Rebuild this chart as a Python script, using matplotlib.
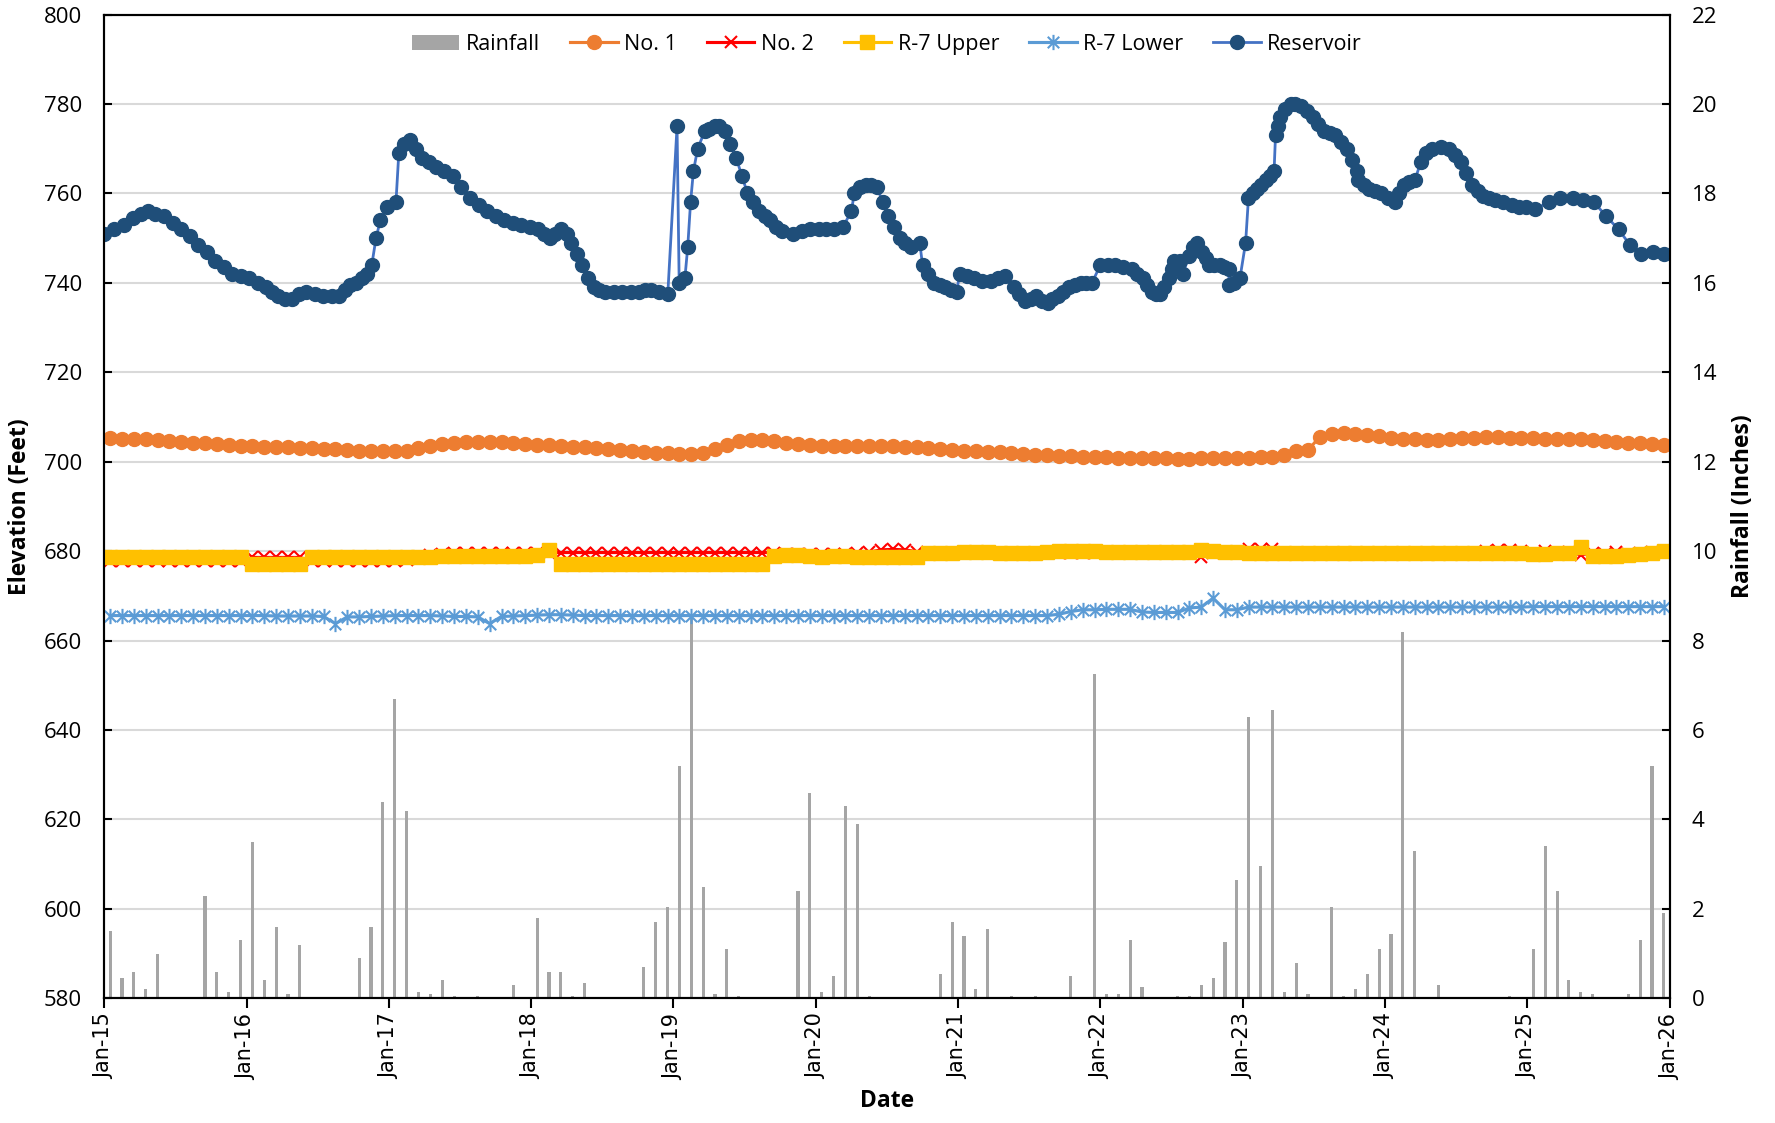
import numpy as np
import matplotlib
matplotlib.use("Agg")
import matplotlib.pyplot as plt
from matplotlib.path import Path

plt.rcParams['font.family'] = ['Open Sans', 'DejaVu Sans']

# monthly rainfall (inches), Jan-2015 .. Dec-2025
rain = [
    1.5, 0.45, 0.6, 0.2, 1.0, 0, 0, 0, 2.3, 0.6, 0.15, 1.3,        # 2015
    3.5, 0.4, 1.6, 0.1, 1.2, 0, 0, 0, 0, 0.9, 1.6, 4.4,            # 2016
    6.7, 4.2, 0.15, 0.1, 0.4, 0.05, 0, 0.05, 0, 0, 0.3, 0,         # 2017
    1.8, 0.6, 0.6, 0.05, 0.35, 0, 0, 0, 0, 0.7, 1.7, 2.05,         # 2018
    5.2, 8.6, 2.5, 0.1, 1.1, 0.05, 0, 0, 0, 0, 2.4, 4.6,           # 2019
    0.15, 0.5, 4.3, 3.9, 0.05, 0, 0, 0, 0, 0, 0.55, 1.7,           # 2020
    1.4, 0.2, 1.55, 0, 0.05, 0, 0.05, 0, 0, 0.5, 0, 7.25,          # 2021
    0.1, 0.1, 1.3, 0.25, 0, 0, 0.05, 0.05, 0.3, 0.45, 1.25, 2.65,  # 2022
    6.3, 2.95, 6.45, 0.15, 0.8, 0.1, 0, 2.05, 0.05, 0.2, 0.55, 1.1,  # 2023
    1.45, 8.2, 3.3, 0, 0.3, 0, 0, 0, 0, 0, 0.05, 0,                # 2024
    1.1, 3.4, 2.4, 0.4, 0.15, 0.1, 0, 0, 0.1, 1.3, 5.2, 1.9,       # 2025
]

no1 = [
    705.3, 705.2, 705.1, 705.0, 704.9, 704.7, 704.5, 704.3, 704.1, 703.9, 703.7, 703.6,
    703.5, 703.4, 703.3, 703.2, 703.1, 703.0, 702.9, 702.8, 702.6, 702.5, 702.4, 702.3,
    702.3, 702.5, 703.0, 703.5, 703.9, 704.2, 704.4, 704.5, 704.5, 704.4, 704.2, 704.0,
    703.8, 703.7, 703.6, 703.4, 703.2, 703.0, 702.8, 702.6, 702.4, 702.2, 702.0, 701.9,
    701.8, 701.7, 702.0, 702.8, 703.8, 704.6, 704.9, 704.8, 704.6, 704.3, 704.0, 703.8,
    703.6, 703.5, 703.5, 703.5, 703.5, 703.6, 703.5, 703.4, 703.2, 703.0, 702.8, 702.6,
    702.5, 702.3, 702.2, 702.1, 702.0, 701.8, 701.6, 701.5, 701.3, 701.2, 701.1, 701.0,
    701.0, 700.9, 700.9, 700.8, 700.8, 700.8, 700.7, 700.7, 700.8, 700.8, 700.9, 700.9,
    700.9, 701.0, 701.1, 701.4, 702.5, 702.6, 705.6, 706.2, 706.5, 706.3, 706.0, 705.7,
    705.4, 705.2, 705.0, 704.9, 704.9, 705.1, 705.3, 705.4, 705.5, 705.5, 705.4, 705.3,
    705.3, 705.2, 705.2, 705.1, 705.0, 704.9, 704.7, 704.5, 704.3, 704.2, 704.0, 703.8,
]

no2 = [
    677.8, 677.8, 677.8, 677.8, 677.8, 677.8, 677.8, 677.8, 677.8, 677.8, 677.8, 677.8,
    678.6, 678.6, 678.6, 678.6, 678.6, 677.8, 677.8, 677.8, 677.8, 677.8, 677.8, 677.8,
    677.9, 678.0, 678.6, 679.2, 679.4, 679.5, 679.6, 679.6, 679.7, 679.7, 679.7, 679.7,
    679.7, 679.7, 679.7, 679.7, 679.7, 679.7, 679.7, 679.7, 679.7, 679.7, 679.7, 679.7,
    679.7, 679.7, 679.7, 679.7, 679.7, 679.7, 679.7, 679.7, 679.7, 679.4, 679.3, 679.3,
    679.3, 679.3, 679.3, 679.5, 679.8, 680.3, 680.4, 680.3, 679.9, 679.6, 679.6, 679.6,
    679.6, 679.6, 679.6, 679.6, 679.6, 679.6, 679.6, 679.6, 679.6, 679.6, 679.6, 679.6,
    679.6, 679.6, 679.6, 679.6, 679.6, 679.6, 679.6, 679.6, 678.8, 679.6, 679.6, 679.6,
    680.6, 680.6, 680.4, 679.6, 679.6, 679.6, 679.6, 679.6, 679.6, 679.6, 679.6, 679.6,
    679.6, 679.6, 679.6, 679.6, 679.6, 679.6, 679.6, 679.6, 680.0, 680.2, 680.2, 680.0,
    679.4, 680.0, 679.3, 679.8, 679.2, 679.6, 679.4, 679.8, 679.3, 679.6, 679.8, 680.0,
]

r7_upper = [
    678.7, 678.7, 678.7, 678.7, 678.7, 678.7, 678.7, 678.7, 678.7, 678.7, 678.7, 678.7,
    677.2, 677.2, 677.2, 677.2, 677.2, 678.6, 678.6, 678.6, 678.6, 678.6, 678.6, 678.6,
    678.7, 678.7, 678.8, 678.8, 678.9, 678.9, 678.9, 679.0, 679.0, 679.0, 679.0, 679.0,
    679.1, 680.3, 677.2, 677.2, 677.2, 677.2, 677.2, 677.2, 677.2, 677.2, 677.2, 677.2,
    677.2, 677.2, 677.2, 677.2, 677.2, 677.2, 677.2, 677.2, 678.9, 679.1, 679.1, 679.0,
    678.6, 679.0, 679.0, 678.6, 678.6, 678.6, 678.6, 678.6, 678.6, 679.6, 679.7, 679.7,
    679.8, 679.8, 679.8, 679.7, 679.7, 679.7, 679.7, 679.8, 680.0, 680.1, 680.1, 680.0,
    679.9, 679.8, 679.8, 679.9, 679.9, 679.9, 679.9, 679.9, 680.3, 680.0, 679.9, 679.8,
    679.7, 679.6, 679.6, 679.5, 679.5, 679.5, 679.5, 679.5, 679.5, 679.5, 679.5, 679.5,
    679.5, 679.5, 679.5, 679.5, 679.5, 679.5, 679.5, 679.5, 679.5, 679.5, 679.5, 679.5,
    679.4, 679.4, 679.5, 679.5, 681.0, 679.0, 679.0, 679.0, 679.2, 679.3, 679.5, 680.0,
]

r7_lower = [
    665.6, 665.6, 665.6, 665.6, 665.6, 665.6, 665.6, 665.6, 665.6, 665.6, 665.6, 665.6,
    665.6, 665.6, 665.5, 665.5, 665.5, 665.5, 665.4, 663.8, 665.3, 665.3, 665.4, 665.5,
    665.6, 665.6, 665.6, 665.6, 665.5, 665.4, 665.4, 665.3, 663.8, 665.4, 665.5, 665.6,
    665.7, 665.8, 665.8, 665.7, 665.6, 665.6, 665.6, 665.6, 665.6, 665.6, 665.6, 665.6,
    665.6, 665.6, 665.6, 665.6, 665.6, 665.6, 665.6, 665.6, 665.6, 665.6, 665.6, 665.6,
    665.6, 665.6, 665.6, 665.6, 665.6, 665.6, 665.6, 665.6, 665.6, 665.6, 665.6, 665.6,
    665.6, 665.6, 665.6, 665.6, 665.6, 665.6, 665.6, 665.6, 665.9, 666.5, 666.9, 666.9,
    667.0, 667.0, 667.0, 666.4, 666.3, 666.3, 666.3, 667.3, 667.5, 669.5, 666.9, 666.9,
    667.5, 667.5, 667.5, 667.5, 667.5, 667.5, 667.5, 667.5, 667.5, 667.5, 667.5, 667.5,
    667.5, 667.5, 667.5, 667.5, 667.5, 667.5, 667.5, 667.5, 667.5, 667.5, 667.5, 667.5,
    667.6, 667.6, 667.6, 667.6, 667.6, 667.6, 667.6, 667.6, 667.6, 667.6, 667.6, 667.6,
]

# reservoir readings (decimal year, elevation ft)
res_t = [
    2015.00, 2015.07, 2015.14, 2015.20, 2015.26, 2015.31, 2015.36, 2015.42, 2015.48,
    2015.54, 2015.60, 2015.66, 2015.72, 2015.78, 2015.84, 2015.90, 2015.96,
    2016.02, 2016.08, 2016.14, 2016.18, 2016.22, 2016.27, 2016.32, 2016.37, 2016.42,
    2016.48, 2016.54, 2016.60, 2016.65, 2016.69, 2016.73, 2016.77, 2016.81, 2016.85,
    2016.88, 2016.91, 2016.94, 2016.99, 2017.05, 2017.07, 2017.11, 2017.15, 2017.19,
    2017.23, 2017.28, 2017.33, 2017.39, 2017.45, 2017.51, 2017.57, 2017.63, 2017.69,
    2017.75, 2017.81, 2017.87, 2017.93, 2017.99, 2018.05, 2018.09, 2018.13, 2018.17,
    2018.21, 2018.25, 2018.28, 2018.32, 2018.36, 2018.40, 2018.44, 2018.48, 2018.52,
    2018.58, 2018.64, 2018.70, 2018.76, 2018.80, 2018.84, 2018.90, 2018.96, 2019.025,
    2019.04, 2019.08, 2019.10, 2019.12, 2019.14, 2019.17, 2019.22, 2019.25, 2019.29,
    2019.32, 2019.36, 2019.40, 2019.44, 2019.48, 2019.52, 2019.56, 2019.60, 2019.64,
    2019.68, 2019.72, 2019.76, 2019.84, 2019.90, 2019.96, 2020.02, 2020.07, 2020.13,
    2020.19, 2020.25, 2020.27, 2020.31, 2020.35, 2020.39, 2020.43, 2020.47, 2020.51,
    2020.55, 2020.59, 2020.63, 2020.67, 2020.73, 2020.75, 2020.79, 2020.83, 2020.87,
    2020.91, 2020.95, 2020.99, 2021.01, 2021.06, 2021.11, 2021.17, 2021.23, 2021.28,
    2021.33, 2021.39, 2021.43, 2021.47, 2021.51, 2021.55, 2021.59, 2021.63, 2021.66,
    2021.70, 2021.74, 2021.78, 2021.82, 2021.86, 2021.90, 2021.94, 2022.00, 2022.05,
    2022.10, 2022.16, 2022.22, 2022.26, 2022.30, 2022.33, 2022.36, 2022.39, 2022.42,
    2022.45, 2022.48, 2022.50, 2022.52, 2022.56, 2022.58, 2022.62, 2022.65, 2022.675,
    2022.715, 2022.74, 2022.76, 2022.80, 2022.84, 2022.87, 2022.90, 2022.906, 2022.94,
    2022.98, 2023.02, 2023.04, 2023.07, 2023.10, 2023.13, 2023.16, 2023.19, 2023.22,
    2023.23, 2023.245, 2023.26, 2023.30, 2023.34, 2023.37, 2023.41, 2023.45, 2023.49,
    2023.53, 2023.57, 2023.61, 2023.65, 2023.69, 2023.73, 2023.77, 2023.80, 2023.81,
    2023.85, 2023.89, 2023.93, 2023.97, 2024.02, 2024.07, 2024.10, 2024.13, 2024.17,
    2024.21, 2024.25, 2024.29, 2024.33, 2024.39, 2024.45, 2024.49, 2024.53, 2024.57,
    2024.61, 2024.65, 2024.69, 2024.73, 2024.77, 2024.83, 2024.89, 2024.94, 2024.99,
    2025.05, 2025.15, 2025.23, 2025.32, 2025.39, 2025.47, 2025.55, 2025.64, 2025.72,
    2025.80, 2025.88, 2025.96,
]
res_v = [
    751, 752, 753, 754.5, 755.5, 756, 755.5, 755, 753.5,
    752, 750.5, 748.5, 747, 745, 743.5, 742, 741.5,
    741, 740, 739, 738, 737, 736.5, 736.5, 737.5, 738,
    737.5, 737, 737, 737, 738.5, 739.5, 740, 741, 742,
    744, 750, 754, 757, 758, 769, 771, 772, 770,
    768, 767, 766, 765, 764, 761.5, 759, 757.5, 756,
    755, 754, 753.5, 753, 752.5, 752, 751, 750, 751,
    752, 751, 749, 746.5, 744, 741, 739, 738.5, 738,
    738, 738, 738, 738, 738.5, 738.5, 738, 737.5, 775,
    740, 741, 748, 758, 765, 770, 774, 774.5, 775,
    775, 774, 771, 768, 764, 760, 758, 756, 755,
    754, 752.5, 751.5, 751, 751.5, 752, 752, 752, 752,
    752.5, 756, 760, 761.5, 762, 762, 761.5, 758, 755,
    752.5, 750, 749, 748, 749, 744, 742, 740, 739.5,
    739, 738.5, 738, 742, 741.5, 741, 740.5, 740.5, 741,
    741.5, 739, 737.5, 736, 736.5, 737, 736, 735.5, 736.5,
    737, 738, 739, 739.5, 740, 740, 740, 744, 744,
    744, 743.5, 743, 742, 741, 739.5, 738, 737.5, 737.5,
    739, 741, 743, 745, 745, 742, 746, 748, 749,
    747, 745.5, 744, 744, 744, 743.5, 743, 739.5, 740,
    741, 749, 759, 760, 761, 762, 763, 764, 765,
    773, 775, 777, 779, 780, 780, 779.5, 778.5, 777,
    775.5, 774, 773.5, 773, 771.5, 770, 767.5, 765, 763,
    762, 761, 760.5, 760, 759, 758, 760, 762, 762.5,
    763, 767, 769, 770, 770.5, 770, 768.5, 767, 764.5,
    762, 760.5, 759.5, 759, 758.5, 758, 757.5, 757, 757,
    756.5, 758, 759, 759, 758.5, 758, 755, 752, 748.5,
    746.5, 747, 746.5,
]

months = 2015 + (np.arange(len(rain)) + 0.5) / 12.0
years = np.arange(2015, 2027)

fig = plt.figure(figsize=(17.75, 11.23), dpi=100)
ax = fig.add_axes([0.0587, 0.111, 0.882, 0.876])
ax2 = ax.twinx()
ax.set_zorder(ax2.get_zorder() + 1)
ax.patch.set_visible(False)

bars = ax2.bar(months, rain, width=0.022, color='#A5A5A5', label='Rainfall')

asterisk = Path([(0, -1), (0, 1), (-0.75, -0.75), (0.75, 0.75), (-0.75, 0.75), (0.75, -0.75)],
                [Path.MOVETO, Path.LINETO] * 3)

l1, = ax.plot(months, no1, color='#ED7D31', lw=2.25, marker='o', ms=10,
              mec='#ED7D31', mfc='#ED7D31', label='No. 1')
l2, = ax.plot(months, no2, color='#FF0000', lw=2.25, marker='x', ms=8,
              mew=1.5, label='No. 2')
l3, = ax.plot(months, r7_upper, color='#FFC000', lw=2.25, marker='s', ms=10,
              label='R-7 Upper')
l4, = ax.plot(months, r7_lower, color='#5B9BD5', lw=2.25, marker=asterisk, ms=11,
              mew=1.5, mfc='none', label='R-7 Lower')
l5, = ax.plot(res_t, res_v, color='#4472C4', lw=2, marker='o', ms=10,
              mfc='#1F4E79', mec='#1F4E79', label='Reservoir')

ax.set_xlim(2015, 2026)
ax.set_ylim(580, 800)
ax2.set_ylim(0, 22)
ax.set_yticks(np.arange(580, 801, 20))
ax2.set_yticks(np.arange(0, 23, 2))
ax.set_xticks(years)
ax.set_xticklabels(['Jan-%02d' % (y % 100) for y in years], rotation=90,
                   fontsize=15, family='DejaVu Sans')

ax2.set_axisbelow(True)
ax2.grid(axis='y', color='#D9D9D9', lw=1.5)
ax.grid(False)

for a in (ax, ax2):
    for s in ('left', 'right', 'bottom', 'top'):
        a.spines[s].set_linewidth(1.5)
        a.spines[s].set_color('black')
ax.tick_params(axis='y', direction='in', length=6, width=1.5, labelsize=16, pad=16)
ax2.tick_params(axis='y', direction='in', length=6, width=1.5, labelsize=16, pad=16)
ax.tick_params(axis='x', direction='out', length=7, width=1.5, pad=4)

ax.set_xlabel('Date', fontsize=16.5, fontweight='bold')
ax.set_ylabel('Elevation (Feet)', fontsize=16.5, fontweight='bold')
ax2.set_ylabel('Rainfall (Inches)', fontsize=16.5, fontweight='bold', rotation=90)
ax.xaxis.set_label_coords(0.5, -0.092)
ax.yaxis.set_label_coords(-0.046, 0.5)
ax2.yaxis.set_label_coords(1.039, 0.5)

ax.legend(handles=[bars, l1, l2, l3, l4, l5], loc='upper center', ncol=6,
          frameon=False, fontsize=15.5, bbox_to_anchor=(0.5, 1.0),
          handlelength=2.2, columnspacing=1.4, handletextpad=0.3)

fig.savefig('out.png', dpi=100)
